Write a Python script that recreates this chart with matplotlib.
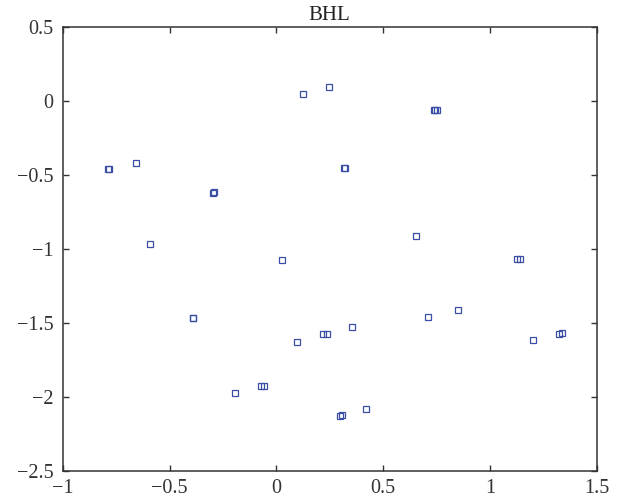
import matplotlib
matplotlib.use("Agg")
import matplotlib.pyplot as plt

plt.rcParams['font.family'] = ['Liberation Serif', 'DejaVu Serif']

# point positions (overlapping pairs kept as pairs)
xs = [-0.786, -0.783, -0.658, -0.296, -0.293, -0.590, 0.125, 0.247,
      0.737, 0.744, 0.751, 0.319, 0.322, 0.655, 0.027, -0.392, -0.389,
      0.095, -0.192, -0.072, -0.056, 1.125, 1.143, 0.852, 0.712, 0.356,
      0.220, 0.236, 1.203, 1.322, 1.339, 0.420, 0.298, 0.309]
ys = [-0.461, -0.459, -0.420, -0.619, -0.617, -0.968, 0.047, 0.096,
      -0.062, -0.062, -0.062, -0.454, -0.452, -0.910, -1.077, -1.469, -1.467,
      -1.627, -1.977, -1.927, -1.927, -1.070, -1.070, -1.411, -1.460, -1.526,
      -1.577, -1.577, -1.618, -1.575, -1.568, -2.083, -2.128, -2.123]

xticks = [-1, -0.5, 0, 0.5, 1, 1.5]
yticks = [-2.5, -2, -1.5, -1, -0.5, 0, 0.5]

def fmt(v):
    s = ('%g' % v)
    return s.replace('-', '\u2212')

fig = plt.figure(figsize=(6.19, 5), dpi=100)
ax = fig.add_axes([0.1013, 0.0586, 0.8627, 0.8868])

ax.plot(xs, ys, linestyle='none', marker='s', markersize=5,
        markerfacecolor='none', markeredgecolor='#3a4ea3', markeredgewidth=0.9)

ax.set_xlim(-1, 1.5)
ax.set_ylim(-2.5, 0.5)
ax.set_xticks(xticks)
ax.set_yticks(yticks)
ax.set_xticklabels([fmt(v) for v in xticks])
ax.set_yticklabels([fmt(v) for v in yticks])
ax.tick_params(direction='in', top=True, right=True, length=4.5, width=1,
               labelsize=14.5, colors='#333333')
ax.tick_params(axis='x', pad=6)
ax.tick_params(axis='y', pad=6.5)
for sp in ax.spines.values():
    sp.set_color('#333333')
    sp.set_linewidth(1.1)

ax.set_title('BHL', fontsize=15, color='#222222', pad=5)

fig.savefig('out.png', dpi=100)
